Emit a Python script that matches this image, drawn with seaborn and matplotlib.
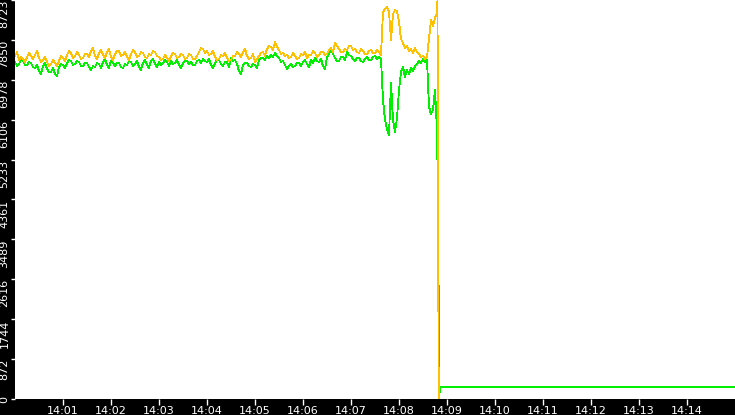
import pandas as pd
import matplotlib
matplotlib.use('Agg')
import matplotlib.pyplot as plt
import matplotlib.dates as mdates
import seaborn as sns

start = pd.Timestamp('2024-01-01 14:00:00')
step_s = 2.5  # one sample every 2.5 seconds

# upper series (orange), regular samples from 14:00:00
upper = [7499, 7586, 7411, 7477, 7433, 7368, 7477, 7564, 7499, 7433,
         7521, 7608, 7455, 7368, 7411, 7477, 7368, 7280, 7324, 7411,
         7346, 7280, 7389, 7499, 7455, 7389, 7521, 7608, 7564, 7455,
         7499, 7586, 7521, 7433, 7455, 7542, 7542, 7477, 7608, 7674,
         7499, 7433, 7564, 7630, 7521, 7455, 7586, 7652, 7477, 7411,
         7542, 7608, 7608, 7499, 7521, 7586, 7477, 7411, 7542, 7630,
         7586, 7477, 7499, 7586, 7564, 7477, 7455, 7542, 7521, 7608,
         7586, 7499, 7477, 7411, 7433, 7521, 7455, 7389, 7499, 7564,
         7542, 7455, 7477, 7542, 7521, 7433, 7455, 7542, 7521, 7433,
         7433, 7499, 7586, 7674, 7652, 7564, 7608, 7521, 7542, 7608,
         7477, 7411, 7433, 7521, 7499, 7564, 7455, 7389, 7411, 7499,
         7499, 7586, 7542, 7477, 7586, 7652, 7499, 7433, 7455, 7542,
         7368, 7433, 7499, 7564, 7586, 7499, 7652, 7717, 7696, 7630,
         7805, 7696, 7630, 7542, 7564, 7499, 7521, 7455, 7477, 7564,
         7499, 7433, 7455, 7542, 7521, 7586, 7455, 7521, 7521, 7608,
         7564, 7477, 7521, 7586, 7586, 7521, 7542, 7630, 7674, 7586,
         7783, 7717, 7652, 7586, 7586, 7652, 7630, 7717, 7717, 7630,
         7652, 7586, 7564, 7652, 7608, 7542, 7542, 7608, 7630, 7564,
         7564, 7630, 7586, 7521, 8461, 8526, 8570, 8461, 7848, 8417,
         8504, 8482, 8242, 7870, 7783, 7674, 7717, 7608, 7652, 7564,
         7674, 7586, 7542, 7477, 7499, 7433, 7477, 7892, 8286, 8155,
         8330, 8439]
upper_tail_s = [528.1, 529.6]
upper_tail = [8723, 0]

# lower series (green)
lower = [7368, 7280, 7324, 7411, 7389, 7302, 7302, 7368, 7346, 7258,
         7237, 7302, 7171, 7105, 7280, 7346, 7215, 7149, 7149, 7237,
         7105, 7062, 7258, 7324, 7302, 7237, 7346, 7411, 7389, 7302,
         7324, 7389, 7368, 7280, 7280, 7346, 7346, 7258, 7193, 7280,
         7258, 7346, 7324, 7237, 7368, 7433, 7302, 7237, 7389, 7346,
         7280, 7346, 7346, 7258, 7237, 7324, 7302, 7389, 7368, 7280,
         7324, 7389, 7258, 7193, 7346, 7411, 7302, 7237, 7389, 7433,
         7324, 7258, 7368, 7302, 7346, 7411, 7368, 7280, 7389, 7324,
         7346, 7411, 7302, 7237, 7346, 7389, 7389, 7324, 7368, 7302,
         7302, 7389, 7411, 7346, 7433, 7389, 7368, 7433, 7302, 7237,
         7346, 7411, 7411, 7324, 7280, 7368, 7368, 7258, 7455, 7389,
         7411, 7324, 7171, 7105, 7302, 7346, 7346, 7280, 7258, 7324,
         7302, 7237, 7411, 7455, 7455, 7411, 7499, 7455, 7521, 7477,
         7564, 7499, 7455, 7368, 7389, 7302, 7215, 7280, 7324, 7258,
         7280, 7346, 7346, 7280, 7368, 7411, 7324, 7258, 7411, 7346,
         7455, 7389, 7368, 7433, 7280, 7215, 7477, 7542, 7652, 7542,
         7455, 7389, 7389, 7477, 7477, 7411, 7586, 7521, 7499, 7433,
         7389, 7455, 7455, 7389, 7368, 7433, 7477, 7411, 7411, 7477,
         7499, 7433, 7477, 7433, 6537, 6099, 5903, 5771, 6908, 6099,
         5837, 6143, 6755, 7149, 7258, 7040, 7193, 7105, 7237, 7171,
         7280, 7324, 7389, 7346, 7433, 7368, 7411, 6384, 6231, 6318,
         6755, 5881]
lower_tail_s = [528.75, 529.25, 530.6, 531.9, 900]
lower_tail = [4351, 2973, 131, 262, 262]

y_max = 8723
y_labels = ['0', '872', '1744', '2616', '3489', '4361', '5233',
            '6106', '6978', '7850', '8723']
x_labels = ['14:01', '14:02', '14:03', '14:04', '14:05', '14:06', '14:07',
            '14:08', '14:09', '14:10', '14:11', '14:12', '14:13', '14:14']


def frame(name, vals, tail_s, tail):
    secs = [i * step_s for i in range(len(vals))] + tail_s
    return pd.DataFrame({
        'time': start + pd.to_timedelta(secs, unit='s'),
        'value': vals + tail,
        'series': name,
    })


df = pd.concat([frame('lower', lower, lower_tail_s, lower_tail),
                frame('upper', upper, upper_tail_s, upper_tail)],
               ignore_index=True)

sns.set_theme(style='white')
plt.rcParams['font.family'] = ['DejaVu Sans']

fig = plt.figure(figsize=(7.35, 4.15), dpi=100, facecolor='black')
ax = fig.add_axes([15 / 735, 16 / 415, 720 / 735, 399 / 415])
ax.set_facecolor('white')

sns.lineplot(data=df, x='time', y='value', hue='series',
             hue_order=['lower', 'upper'],
             palette={'lower': '#00EE00', 'upper': '#FFC000'},
             estimator=None, linewidth=0.6, antialiased=False,
             legend=False, ax=ax)

ax.set_xlim(mdates.date2num(start.to_pydatetime()),
            mdates.date2num((start + pd.Timedelta(minutes=15)).to_pydatetime()))
ax.set_ylim(0, y_max)

y_ticks = [y_max * i / 10 for i in range(11)]
ax.set_yticks(y_ticks)
ax.set_yticklabels(y_labels, rotation=90, va='top')
ax.get_yticklabels()[0].set_va('center')

x_ticks = [mdates.date2num((start + pd.Timedelta(minutes=m)).to_pydatetime())
           for m in range(1, len(x_labels) + 1)]
ax.set_xticks(x_ticks)
ax.set_xticklabels(x_labels)

ax.tick_params(axis='both', colors='white', labelcolor='white', labelsize=8,
               length=3, width=1, pad=1, direction='out',
               left=True, bottom=True)
ax.tick_params(axis='x', length=4)
ax.set_xlabel('')
ax.set_ylabel('')
for s in ax.spines.values():
    s.set_visible(False)

fig.savefig('out.png', dpi=100, facecolor='black')
